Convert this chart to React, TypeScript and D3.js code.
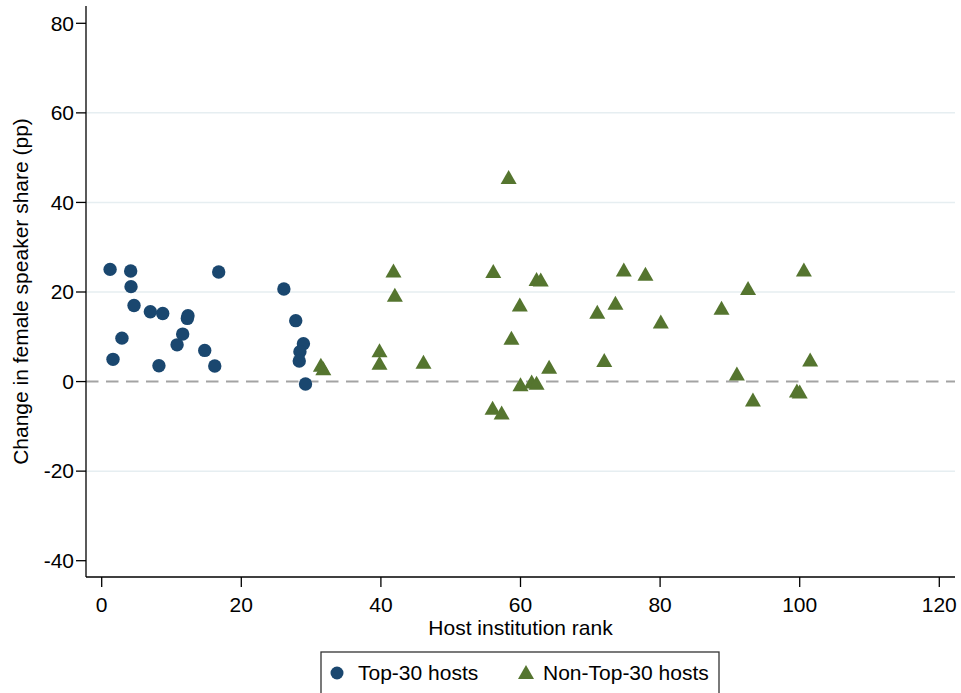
import * as d3 from 'd3';

// Top-30 host institutions: [rank, change in female speaker share (pp)]
const topRank = [1.2, 4.15, 16.76, 4.2, 26.1, 4.63, 6.97, 8.74, 12.36, 12.27, 27.8, 2.9, 11.6, 10.8, 28.9, 28.4, 28.3, 1.62, 14.76, 8.2, 16.2, 29.2];
const topChange = [25.05, 24.7, 24.45, 21.2, 20.66, 17.0, 15.6, 15.2, 14.7, 14.1, 13.6, 9.7, 10.6, 8.2, 8.45, 6.65, 4.58, 4.96, 6.96, 3.53, 3.46, -0.56];

// Non-Top-30 host institutions
const otherRank = [31.4, 31.75, 39.8, 39.8, 41.8, 42.0, 46.1, 56.0, 56.1, 57.3, 58.3, 58.7, 59.9, 60.0, 61.6, 62.3, 62.3, 62.9, 64.1, 71.0, 72.0, 73.6, 74.8, 77.9, 80.1, 88.8, 91.0, 92.6, 93.3, 99.6, 100.0, 100.6, 101.5];
const otherChange = [3.75, 3.0, 7.0, 4.2, 24.8, 19.4, 4.4, -5.85, 24.7, -6.9, 45.7, 9.8, 17.2, -0.6, 0.0, -0.25, 22.9, 22.8, 3.3, 15.6, 4.8, 17.6, 25.05, 24.1, 13.4, 16.5, 1.8, 20.9, -4.0, -2.0, -2.2, 25.05, 4.95];

const xTicks = [0, 20, 40, 60, 80, 100, 120];
const yTicks = [-40, -20, 0, 20, 40, 60, 80];
const gridValues = [-20, 20, 40, 60];

const NAVY = '#1a476f';
const GREEN = '#55752f';
const FONT = '"Liberation Sans", Arial, sans-serif';

export default function App() {
  const width = 961;
  const height = 693;
  const axisLeft = 86;
  const axisRight = 955;
  const axisTop = 6;
  const axisBottom = 577;

  const x = d3.scaleLinear().domain([0, 120]).range([101.7, 939.3]);
  const y = d3.scaleLinear().domain([-40, 80]).range([560.7, 23.3]);

  const tri = 'M0,-7L8,7L-8,7Z';
  const fs = 21;

  return (
    <svg width={width} height={height} style={{ position: 'absolute', left: 0, top: 0, background: '#fff' }} fontFamily={FONT}>
      <rect x={0} y={0} width={width} height={height} fill="#fff" />
      {/* grid */}
      {gridValues.map(v => (
        <line key={v} x1={axisLeft} x2={axisRight} y1={y(v)} y2={y(v)} stroke="#e6eef1" strokeWidth={1.5} />
      ))}
      {/* zero reference */}
      <line x1={axisLeft} x2={axisRight} y1={y(0)} y2={y(0)} stroke="#a3a3a3" strokeWidth={2} strokeDasharray="12.5 7.5" />

      {/* axes */}
      <line x1={axisLeft} x2={axisLeft} y1={axisTop} y2={axisBottom} stroke="#000" strokeWidth={1.3} />
      <line x1={axisLeft} x2={axisRight} y1={axisBottom} y2={axisBottom} stroke="#000" strokeWidth={1.3} />
      {yTicks.map(v => (
        <g key={v}>
          <line x1={76} x2={axisLeft} y1={y(v)} y2={y(v)} stroke="#000" strokeWidth={1.3} />
          <text x={74} y={y(v)} dy="0.35em" textAnchor="end" fontSize={fs}>{v}</text>
        </g>
      ))}
      {xTicks.map(v => (
        <g key={v}>
          <line x1={x(v)} x2={x(v)} y1={axisBottom} y2={587} stroke="#000" strokeWidth={1.3} />
          <text x={x(v)} y={612} textAnchor="middle" fontSize={fs}>{v}</text>
        </g>
      ))}
      <text x={(axisLeft + axisRight) / 2} y={635} textAnchor="middle" fontSize={fs}>Host institution rank</text>
      <text transform={`translate(28,${(axisTop + axisBottom) / 2}) rotate(-90)`} textAnchor="middle" fontSize={fs}>Change in female speaker share (pp)</text>

      {/* points */}
      {otherRank.map((r, i) => (
        <path key={'o' + i} d={tri} transform={`translate(${x(r)},${y(otherChange[i])})`} fill={GREEN} />
      ))}
      {topRank.map((r, i) => (
        <circle key={'t' + i} cx={x(r)} cy={y(topChange[i])} r={6.7} fill={NAVY} />
      ))}

      {/* legend */}
      <rect x={321} y={652} width={398} height={60} fill="#fff" stroke="#333" strokeWidth={1.3} />
      <circle cx={337} cy={673} r={6.5} fill={NAVY} />
      <text x={358} y={680} fontSize={fs}>Top-30 hosts</text>
      <path d={tri} transform="translate(526,672)" fill={GREEN} />
      <text x={543} y={680} fontSize={fs}>Non-Top-30 hosts</text>
    </svg>
  );
}
